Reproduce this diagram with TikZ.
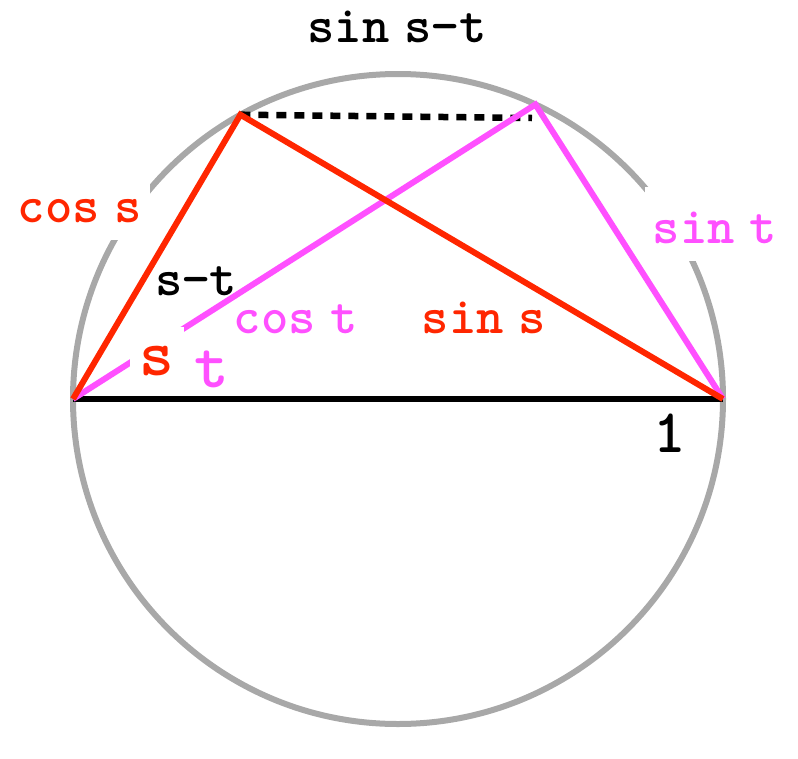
\documentclass[tikz,border=0pt]{standalone}
\usepackage{fontspec}
\usetikzlibrary{positioning}
\definecolor{sred}{RGB}{255,38,0}
\definecolor{tpink}{RGB}{255,80,255}
\definecolor{rimgray}{RGB}{168,168,168}
\begin{document}
\begin{tikzpicture}[
        x=1pt, y=-1pt,
        rim/.style={rimgray, line width=6pt},
        sside/.style={sred, line width=6pt},
        tside/.style={tpink, line width=6pt},
        diam/.style={black, line width=6.5pt},
        chord/.style={black, line width=6.5pt, dash pattern=on 10pt off 8pt},
        lab/.style={font=\ttfamily\bfseries\fontsize{52}{56}\selectfont, anchor=base, inner sep=0pt},
        biglab/.style={font=\ttfamily\bfseries\fontsize{66}{70}\selectfont, anchor=base, inner sep=0pt},
        mask/.style={fill=white, text height=36pt, text depth=10pt, inner sep=8pt},
    ]
        \useasboundingbox (0,0) rectangle (798,758);

        % Circle and points
        \coordinate (O) at (398,399);
        \coordinate (A) at (73,399);
        \coordinate (B) at (723,399);
        \coordinate (P) at (240.4,114.7);
        \coordinate (Q) at (535.4,104.5);
        \coordinate (chordEnd) at (532,118);
        \draw[rim] (O) circle[radius=325];

        % Diameter and chord
        \draw[diam] (A) -- (B);
        \draw[chord] (P) -- (chordEnd);

        % Triangles
        \draw[tside] (A) -- (Q) -- (B);
        \draw[sside] (A) -- (P) -- (B);

        % Labels
        \node[lab] (lblSinDiff) at (397,42) {sin\hspace{-12pt} s−t};
        \node[lab, sred, mask] (lblCosS) at (80,222) {cos\hspace{-12pt} s};
        \node[lab, tpink, mask, text height=48pt] (lblSinT) at (715,243) {sin\hspace{-12pt} t};
        \node[lab] (lblDiff) at (196,295) {s−t};
        \node[lab, tpink] (lblCosT) at (296,333) {cos\hspace{-12pt} t};
        \node[lab, sred] (lblSinS) at (484,333) {sin\hspace{-12pt} s};
        \node[biglab, sred, fill=white, text height=38pt, inner sep=10pt] (lblS) at (157,375) {s};
        \node[biglab, tpink] (lblT) at (212,387) {t};
        \node[biglab, font=\ttfamily\bfseries\fontsize{62}{66}\selectfont] (lblOne) at (670,452) {1};
    \end{tikzpicture}
\end{document}
